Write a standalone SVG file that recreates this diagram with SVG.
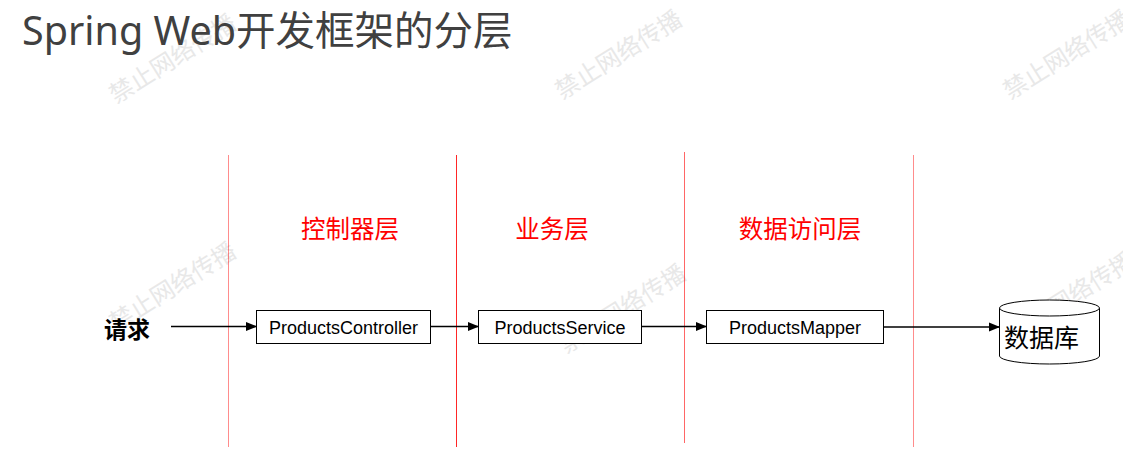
<svg xmlns="http://www.w3.org/2000/svg" width="1123" height="451" viewBox="0 0 1123 451">
<style>
.title{font-family:"Noto Sans","Noto Sans CJK SC",sans-serif;font-size:39.5px;fill:#404040}
.wm{font-family:"Noto Sans CJK SC",sans-serif;font-size:24px;fill:#e8e8e8}
.layer{font-family:"Liberation Serif","Noto Sans CJK SC",serif;font-size:24.5px;fill:#ff0000;text-anchor:middle}
.sep{stroke:#ff0000;stroke-width:1}
.box{fill:#ffffff;stroke:#000000;stroke-width:1}
.lbl{font-family:"Liberation Sans",Arial,sans-serif;font-size:18px;fill:#000000;text-anchor:middle}
.conn{stroke:#000000;stroke-width:1.3;fill:none}
</style>
<defs>
<marker id="ah" markerWidth="11" markerHeight="10" refX="10" refY="5" orient="auto" markerUnits="userSpaceOnUse">
<path d="M0,0.5 L11,5 L0,9.5 Z" fill="#000"/>
</marker>
</defs>
<rect width="1123" height="451" fill="#ffffff"/>
<g id="watermarks">
<text class="wm" transform="translate(116,104) rotate(-32)">禁止网络传播</text>
<text class="wm" transform="translate(562,100) rotate(-32)">禁止网络传播</text>
<text class="wm" transform="translate(1010,100) rotate(-32)">禁止网络传播</text>
<text class="wm" transform="translate(116,332) rotate(-32)">禁止网络传播</text>
<text class="wm" transform="translate(566,354) rotate(-32)">禁止网络传播</text>
<text class="wm" transform="translate(1014,342) rotate(-32)">禁止网络传播</text>
</g>
<text class="title" x="22" y="45">Spring Web开发框架的分层</text>
<g id="separators">
<line class="sep" x1="228.5" y1="155" x2="228.5" y2="447" stroke-opacity="0.45"/>
<line class="sep" x1="456.5" y1="155" x2="456.5" y2="447" stroke-opacity="0.85"/>
<line class="sep" x1="684.5" y1="152" x2="684.5" y2="443" stroke-opacity="0.6"/>
<line class="sep" x1="913.5" y1="155" x2="913.5" y2="447" stroke-opacity="0.45"/>
</g>
<g id="layer-labels">
<text class="layer" x="350" y="238">控制器层</text>
<text class="layer" x="552" y="238">业务层</text>
<text class="layer" x="800" y="238">数据访问层</text>
</g>
<g id="connectors">
<line class="conn" x1="171" y1="326.5" x2="256" y2="326.5" marker-end="url(#ah)"/>
<line class="conn" x1="430" y1="326.5" x2="478" y2="326.5" marker-end="url(#ah)"/>
<line class="conn" x1="641" y1="326.5" x2="706" y2="326.5" marker-end="url(#ah)"/>
<line class="conn" x1="883" y1="327" x2="999" y2="327" marker-end="url(#ah)"/>
</g>
<g id="request">
<text x="104" y="338" font-family="Liberation Serif,'Noto Sans CJK SC',serif" font-size="23" font-weight="bold" fill="#000">请求</text>
</g>
<g id="controller">
<rect class="box" x="256.5" y="310.5" width="174" height="33"/>
<text class="lbl" x="343.5" y="333.5">ProductsController</text>
</g>
<g id="service">
<rect class="box" x="478.5" y="310.5" width="163" height="33"/>
<text class="lbl" x="560" y="333.5">ProductsService</text>
</g>
<g id="mapper">
<rect class="box" x="706.5" y="310.5" width="177" height="33"/>
<text class="lbl" x="795" y="333.5">ProductsMapper</text>
</g>
<g id="database">
<path d="M999.5,308 L999.5,356 A50,8 0 0 0 1099.5,356 L1099.5,308" fill="#fff" stroke="#000" stroke-width="1"/>
<ellipse cx="1049.5" cy="308" rx="50" ry="8" fill="#fff" stroke="#000" stroke-width="1"/>
<text x="1004" y="347" font-family="Liberation Serif,'Noto Sans CJK SC',serif" font-size="25" fill="#000">数据库</text>
</g>
</svg>
